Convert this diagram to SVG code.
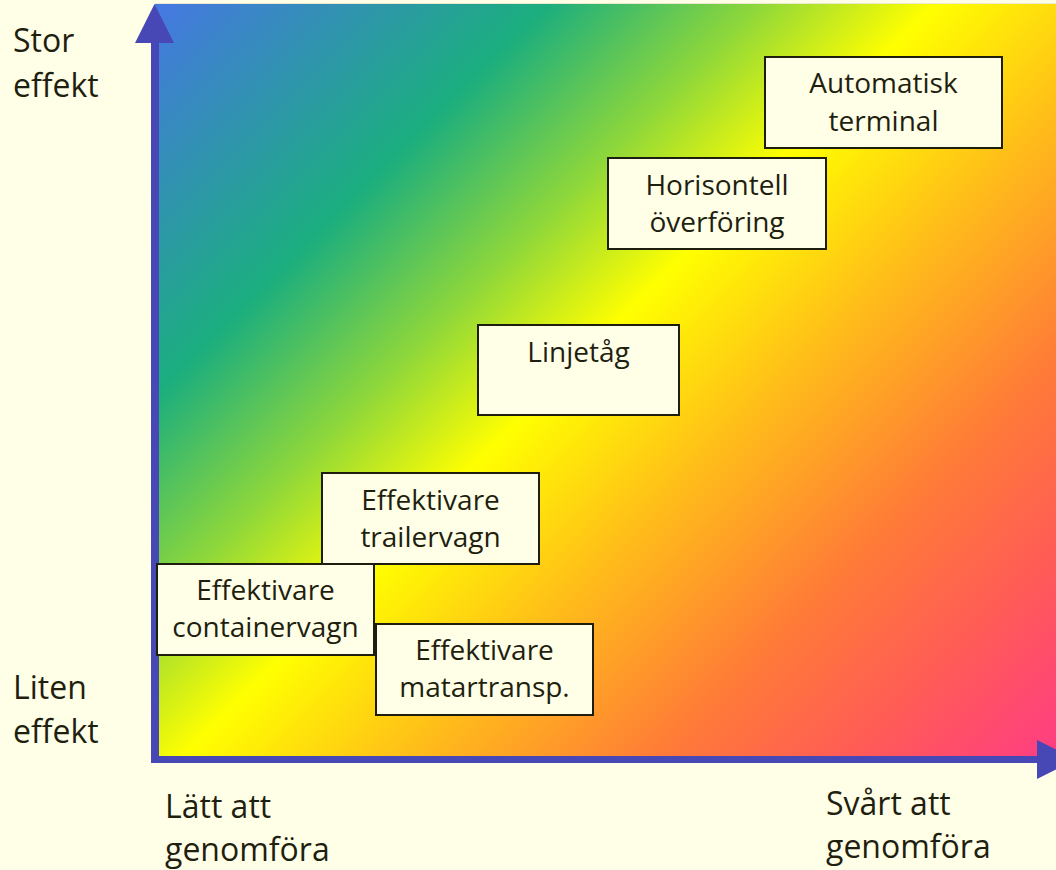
<svg xmlns="http://www.w3.org/2000/svg" width="1056" height="870" viewBox="0 0 1056 870">
  <defs>
    <linearGradient id="bg" gradientUnits="userSpaceOnUse" x1="159" y1="4" x2="985.5" y2="830.5">
      <stop offset="0" stop-color="#4678E2"/>
      <stop offset="0.235" stop-color="#1BAE7E"/>
      <stop offset="0.36" stop-color="#8BD63C"/>
      <stop offset="0.47" stop-color="#FFFF00"/>
      <stop offset="0.6" stop-color="#FFC018"/>
      <stop offset="0.76" stop-color="#FF7A38"/>
      <stop offset="0.88" stop-color="#FF5A58"/>
      <stop offset="1" stop-color="#FF3C84"/>
    </linearGradient>
    <style>
      .box { fill: #FFFFE8; stroke: #1E1E0E; stroke-width: 2; }
      .t { font-family: "Open Sans", "Noto Sans", "Liberation Sans", sans-serif; fill: #1F1F10; }
      .bt { font-size: 28px; text-anchor: middle; }
      .at { font-size: 32px; }
      .axis { fill: #4747B5; }
    </style>
  </defs>
  <rect x="0" y="0" width="1056" height="870" fill="#FFFFE8"/>
  <rect x="155" y="3" width="901" height="1.5" fill="#EDE8CE"/>
  <rect id="field" x="155" y="4" width="901" height="756" fill="url(#bg)"/>

  <g id="axes">
    <rect class="axis" x="151" y="40" width="8" height="723"/>
    <polygon class="axis" points="154.5,4 135,43 174,43"/>
    <rect class="axis" x="155" y="756" width="885" height="7"/>
    <polygon class="axis" points="1037,740 1037,779 1076,759.5"/>
  </g>

  <g id="connectors"></g>

  <g id="axis-labels">
    <text class="t at" x="13" y="52">Stor</text>
    <text class="t at" x="13" y="97">effekt</text>
    <text class="t at" x="13" y="699">Liten</text>
    <text class="t at" x="13" y="743">effekt</text>
    <text class="t at" x="165" y="818">Lätt att</text>
    <text class="t at" x="165" y="861">genomföra</text>
    <text class="t at" x="826" y="815">Svårt att</text>
    <text class="t at" x="826" y="858">genomföra</text>
  </g>

  <g id="node-automatisk">
    <rect class="box" x="765" y="57" width="237" height="91"/>
    <text class="t bt" x="883.5" y="93">Automatisk</text>
    <text class="t bt" x="883.5" y="131">terminal</text>
  </g>
  <g id="node-horisontell">
    <rect class="box" x="608" y="158" width="218" height="91"/>
    <text class="t bt" x="717" y="195">Horisontell</text>
    <text class="t bt" x="717" y="232">överföring</text>
  </g>
  <g id="node-linjetag">
    <rect class="box" x="478" y="325" width="201" height="90"/>
    <text class="t bt" x="578.5" y="362">Linjetåg</text>
  </g>
  <g id="node-trailervagn">
    <rect class="box" x="322" y="473" width="217" height="91"/>
    <text class="t bt" x="430.5" y="510">Effektivare</text>
    <text class="t bt" x="430.5" y="547">trailervagn</text>
  </g>
  <g id="node-containervagn">
    <rect class="box" x="157" y="564" width="217" height="91"/>
    <text class="t bt" x="265.5" y="600">Effektivare</text>
    <text class="t bt" x="265.5" y="637">containervagn</text>
  </g>
  <g id="node-matartransp">
    <rect class="box" x="376" y="624" width="217" height="91"/>
    <text class="t bt" x="484.5" y="660">Effektivare</text>
    <text class="t bt" x="484.5" y="697">matartransp.</text>
  </g>
</svg>
